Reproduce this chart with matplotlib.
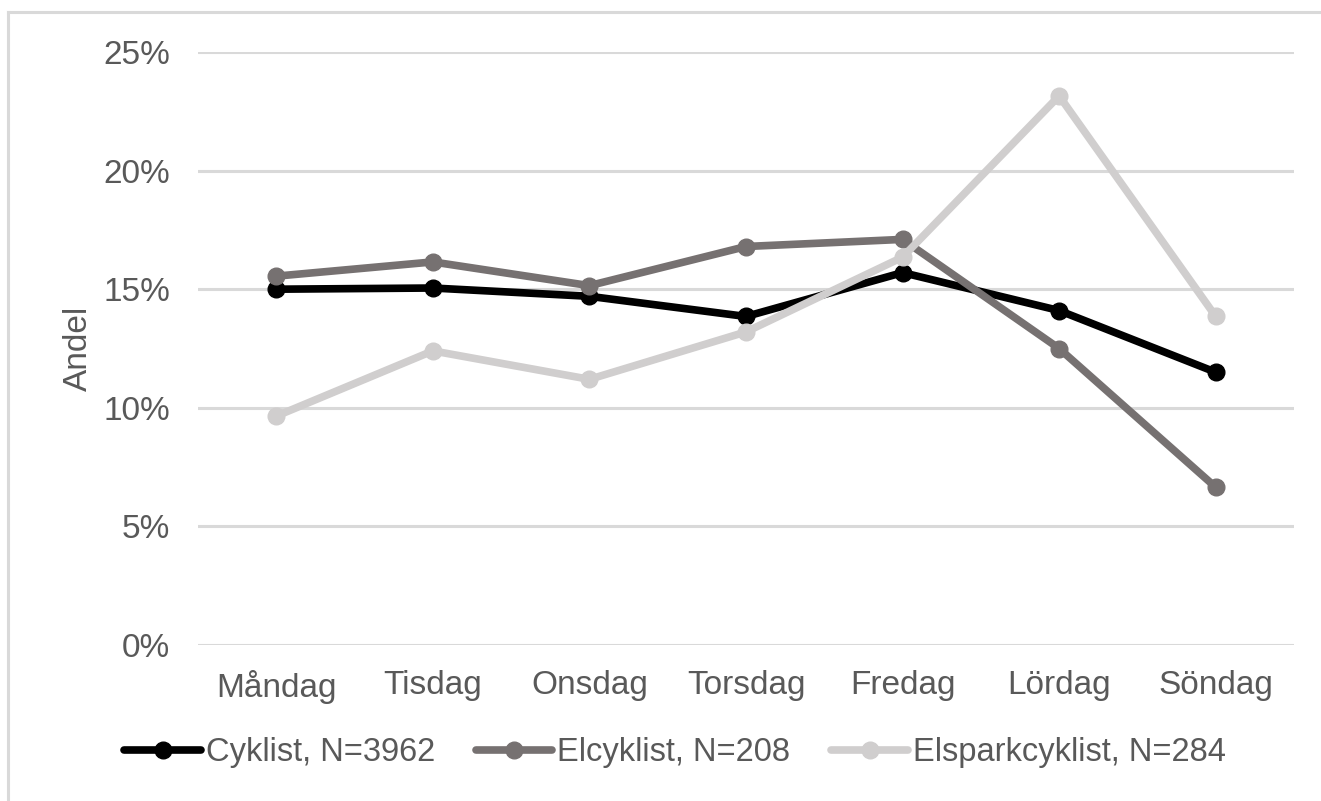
import matplotlib.pyplot as plt
from matplotlib.lines import Line2D
import matplotlib.ticker as ticker

plt.rcParams['font.family'] = ['Liberation Sans', 'DejaVu Sans']

days = ["Måndag", "Tisdag", "Onsdag", "Torsdag", "Fredag", "Lördag", "Söndag"]

# andel per veckodag (%)
cyklist = [15.0, 15.05, 14.7, 13.85, 15.7, 14.1, 11.5]
elcyklist = [15.55, 16.15, 15.15, 16.8, 17.1, 12.5, 6.65]
elspark = [9.65, 12.4, 11.2, 13.2, 16.35, 23.15, 13.85]

names = ["Cyklist, N=3962", "Elcyklist, N=208", "Elsparkcyklist, N=284"]
colors = ["#000000", "#767171", "#d0cece"]
series = [cyklist, elcyklist, elspark]

txt = "#595959"

fig = plt.figure(figsize=(13.21, 8.01), dpi=100)
ax = fig.add_axes([198/1321, 1-645/801, 1096/1321, 593/801])

x = list(range(len(days)))
for s, c, lab in zip(series, colors, names):
    ax.plot(x, s, color=c, lw=5.5, marker="o", markersize=12,
            solid_capstyle="round", label=lab)

ax.set_xlim(-0.5, 6.5)
ax.set_ylim(0, 25)
ax.set_yticks([0, 5, 10, 15, 20, 25])
ax.yaxis.set_major_formatter(ticker.FuncFormatter(lambda v, p: f"{v:.0f}%"))
ax.set_xticks(x)
ax.set_xticklabels(days)
ax.tick_params(axis="both", length=0, labelsize=24, labelcolor=txt)
ax.tick_params(axis="y", pad=20)
ax.tick_params(axis="x", pad=18)
ax.grid(axis="y", color="#d9d9d9", lw=2.2)
ax.set_axisbelow(True)
for sp in ax.spines.values():
    sp.set_visible(False)

ax.set_ylabel("Andel", fontsize=24, color=txt)
ax.yaxis.set_label_coords(-0.095, 0.5)

fig.legend(loc="center", bbox_to_anchor=(675/1321, 1-753/801), ncol=3,
           frameon=False, fontsize=23.5, labelcolor=txt, handlelength=2.34,
           handletextpad=0.15, columnspacing=1.26)

# ram runt diagrammet
fig.add_artist(Line2D([8/1321, 8/1321], [0, 1-11.5/801], color="#d9d9d9", lw=2.2))
fig.add_artist(Line2D([8/1321, 1], [1-11.5/801, 1-11.5/801], color="#d9d9d9", lw=2.2))

fig.savefig("out.png", dpi=100)
